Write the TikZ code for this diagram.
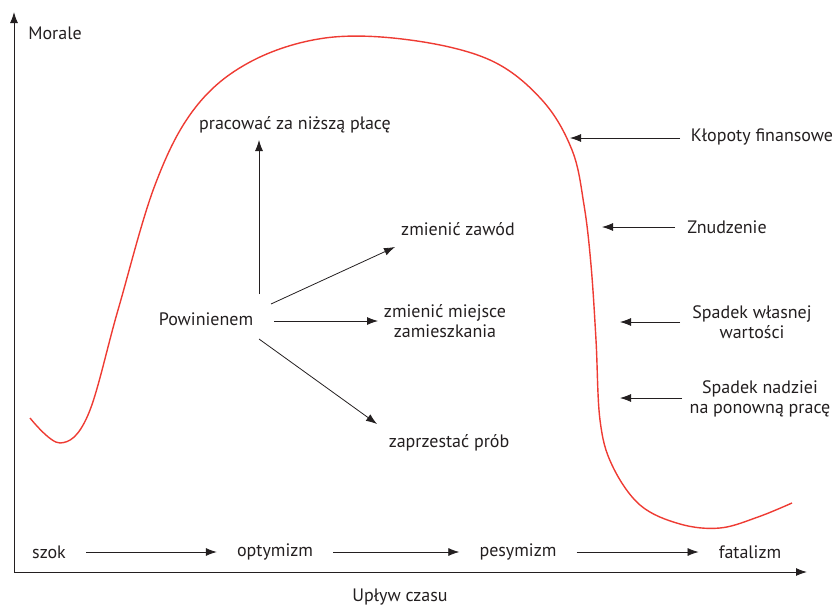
\documentclass[tikz,border=0pt]{standalone}
\usepackage{fontspec}
\setmainfont{PT Sans}
\usetikzlibrary{arrows.meta}
\definecolor{ink}{HTML}{231F20}
\definecolor{curve}{HTML}{EE3B33}
\tikzset{
    lbl/.style={text=ink,font=\fontsize{18}{20}\selectfont,align=center,inner sep=1pt},
    arr/.style={ink,line width=0.8pt,-{Latex[length=11pt,width=8pt]}}
}
\begin{document}
\begin{tikzpicture}[x=1pt,y=-1pt]
                \useasboundingbox (0,0) rectangle (835,605);
                % axes
                \draw[arr,line width=1pt] (14,572) -- (807,572);
                \draw[arr,line width=1pt] (14,572) -- (14,12);
                \node[lbl] (morale) at (55,33) {Morale};
                \node[lbl] (czas) at (400,597) {Upływ czasu};
                % morale curve
                \draw[curve,line width=1.4pt] plot[smooth,tension=0.6] coordinates {
                    (30,418) (60,443) (88,415) (118,310) (155,185) (195,108)
                    (250,62) (325,38) (410,40) (490,60) (542,100) (572,150)
                    (584,205) (591,265) (596,340) (600,420) (612,465) (640,505)
                    (680,524) (720,528) (758,517) (792,503)};
                % stages
                \node[lbl] (szok) at (49,552) {szok};
                \node[lbl] (opt) at (275,552) {optymizm};
                \node[lbl] (pes) at (518,552) {pesymizm};
                \node[lbl] (fat) at (750,552) {fatalizm};
                \foreach \a/\b in {szok/opt,opt/pes,pes/fat}{
                    \draw[arr] ([xshift=19pt]\a.east) -- ([xshift=-19pt]\b.west);
                }
                % causes
                \node[lbl] (klop) at (762,137) {Kłopoty finansowe};
                \node[lbl] (znud) at (727,227) {Znudzenie};
                \node[lbl] (wart) at (752,322) {Spadek własnej\\wartości};
                \node[lbl] (nadz) at (760,399) {Spadek nadziei\\na ponowną pracę};
                \coordinate (c1) at (570,138);
                \coordinate (c2) at (602,227);
                \coordinate (c3) at (620,322);
                \coordinate (c4) at (620,398);
                \draw[arr] (680,138) -- (c1);
                \draw[arr] (675,227) -- (c2);
                \draw[arr] (680,322) -- (c3);
                \draw[arr] (682,398) -- (c4);
                % options
                \node[lbl] (pow) at (206,319) {Powinienem};
                \node[lbl] (plac) at (295,125) {pracować za niższą płacę};
                \node[lbl] (zawod) at (458,229) {zmienić zawód};
                \node[lbl] (miej) at (445,321) {zmienić miejsce\\zamieszkania};
                \node[lbl] (prob) at (449,443) {zaprzestać prób};
                \draw[arr] (259,294) -- (259,140);
                \draw[arr] (271,304) -- (395,247);
                \draw[arr] (274,321) -- (378,321);
                \draw[arr] (259,339) -- (377,424);
            \end{tikzpicture}
\end{document}
